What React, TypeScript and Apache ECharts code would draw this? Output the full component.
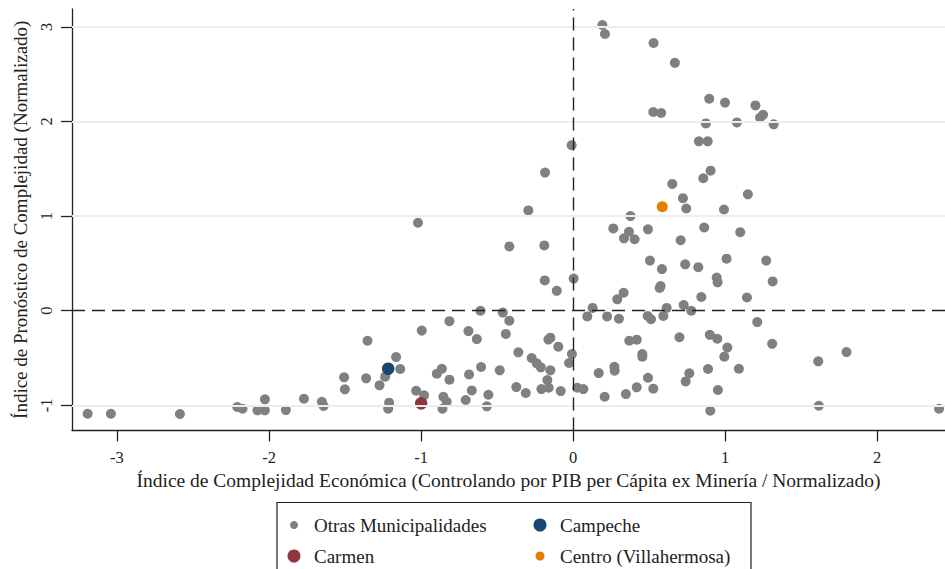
import React, { useEffect, useRef } from "react";
import * as echarts from "echarts";

const xTicks = [-3, -2, -1, 0, 1, 2];
const yTicks = [-1, 0, 1, 2, 3];
const gridLineValues = [-1, 1, 2, 3];

const otras: [number, number][] = [
  [0.193, 3.02], [0.21, 2.925], [0.53, 2.83], [0.67, 2.62], [0.896, 2.24], [1.0, 2.2], [1.2, 2.17],
  [0.528, 2.1], [0.58, 2.09], [1.25, 2.07], [1.23, 2.04], [0.874, 1.98], [1.078, 1.99], [1.32, 1.97],
  [0.828, 1.79], [0.886, 1.79], [-0.009, 1.75], [0.905, 1.48], [-0.184, 1.46], [0.857, 1.4],
  [0.653, 1.34], [1.15, 1.23], [0.723, 1.19], [0.745, 1.08], [0.993, 1.07], [-0.294, 1.06],
  [0.378, 1.0], [-1.02, 0.93], [0.265, 0.87], [0.493, 0.86], [0.863, 0.88], [0.368, 0.835],
  [1.1, 0.83], [0.335, 0.765], [0.405, 0.755], [0.708, 0.745], [-0.419, 0.68], [-0.189, 0.69],
  [0.506, 0.53], [1.01, 0.55], [1.271, 0.53], [0.738, 0.49], [0.824, 0.46], [0.585, 0.44],
  [0.945, 0.35], [0.951, 0.3], [1.313, 0.31], [0.004, 0.34], [-0.186, 0.32], [0.576, 0.26],
  [0.57, 0.24], [-0.107, 0.21], [0.333, 0.19], [0.844, 0.145], [1.144, 0.14], [0.291, 0.12],
  [0.728, 0.06], [0.129, 0.03], [0.616, 0.03], [0.778, 0.0], [-0.609, 0.0], [-0.462, -0.02],
  [0.094, -0.06], [0.224, -0.06], [0.302, -0.085], [0.491, -0.056], [0.513, -0.09], [0.594, -0.056],
  [-0.419, -0.105], [-0.813, -0.11], [1.212, -0.12], [-0.995, -0.21], [-0.688, -0.215],
  [-0.442, -0.245], [0.7, -0.28], [0.9, -0.255], [-0.162, -0.305], [-0.149, -0.285], [-0.633, -0.3],
  [-1.352, -0.317], [0.37, -0.317], [0.419, -0.306], [0.949, -0.296], [1.31, -0.35], [-0.097, -0.38],
  [1.015, -0.39], [-0.36, -0.44], [-0.007, -0.458], [0.456, -0.458], [0.456, -0.486], [1.799, -0.437],
  [-1.164, -0.49], [0.995, -0.486], [-0.272, -0.5], [1.613, -0.535], [-0.239, -0.556], [-0.026, -0.553],
  [-0.212, -0.598], [-0.605, -0.595], [0.272, -0.592], [-1.137, -0.616], [0.888, -0.616], [1.091, -0.613],
  [-0.863, -0.613], [-0.149, -0.63], [-0.482, -0.63], [0.274, -0.634], [0.169, -0.659], [-0.896, -0.666],
  [-0.684, -0.673], [0.765, -0.662], [-1.236, -0.697], [-1.506, -0.704], [0.493, -0.708], [-1.361, -0.715],
  [-0.813, -0.729], [-0.169, -0.733], [0.741, -0.747], [-1.273, -0.789], [-0.373, -0.807], [0.419, -0.81],
  [-0.16, -0.814], [0.028, -0.814], [0.528, -0.824], [0.068, -0.828], [-0.208, -0.828], [-1.501, -0.831],
  [0.953, -0.838], [-0.666, -0.842], [-1.032, -0.846], [-0.081, -0.849], [-0.311, -0.87], [0.348, -0.881],
  [-0.557, -0.888], [-0.98, -0.894], [-0.853, -0.909], [0.208, -0.909], [-1.77, -0.93], [-2.027, -0.937],
  [-0.706, -0.944], [-1.652, -0.962], [-0.831, -0.962], [-1.21, -0.972], [-1.641, -1.007], [-0.567, -1.011],
  [1.617, -1.004], [-2.209, -1.018], [-1.216, -1.036], [-0.859, -1.036], [-2.174, -1.036], [2.408, -1.036],
  [-1.889, -1.05], [-2.076, -1.053], [-2.027, -1.053], [0.903, -1.057], [-3.193, -1.089], [-3.04, -1.089],
  [-2.586, -1.092],
];
const campeche: [number, number][] = [[-1.216, -0.613]];
const carmen: [number, number][] = [[-0.999, -0.979]];
const centro: [number, number][] = [[0.587, 1.1]];

const seriesNames = ["Otras Municipalidades", "Campeche", "Carmen", "Centro (Villahermosa)"];
const seriesColors = ["#808080", "#1a476f", "#90353b", "#e37e00"];

const FONT = "'Liberation Serif', 'Times New Roman', serif";
const INK = "#222222";

export default function App() {
  const ref = useRef<HTMLDivElement>(null);
  useEffect(() => {
    if (!ref.current) return;
    const chart = echarts.init(ref.current, null, { renderer: "svg" });
    const legendItems = [
      { name: seriesNames[0], color: seriesColors[0], x: 294, y: 525, r: 4 },
      { name: seriesNames[1], color: seriesColors[1], x: 540, y: 525, r: 6.5 },
      { name: seriesNames[2], color: seriesColors[2], x: 294, y: 556, r: 6.5 },
      { name: seriesNames[3], color: seriesColors[3], x: 540, y: 556, r: 4.5 },
    ];
    const graphics: any[] = [
      {
        type: "rect",
        shape: { x: 277, y: 502.5, width: 474, height: 80 },
        style: { fill: "#fff", stroke: INK, lineWidth: 1.2 },
        silent: true,
      },
    ];
    legendItems.forEach((it) => {
      graphics.push({
        type: "circle",
        shape: { cx: it.x, cy: it.y, r: it.r },
        style: { fill: it.color },
        silent: true,
      });
      graphics.push({
        type: "text",
        x: it.x + 20,
        y: it.y,
        style: {
          text: it.name,
          fill: INK,
          font: `19px ${FONT}`,
          verticalAlign: "middle",
          align: "left",
        },
        silent: true,
      });
    });

    chart.setOption({
      animation: false,
      backgroundColor: "#ffffff",
      grid: { left: 72, top: 9, width: 873, height: 421.5, containLabel: false },
      xAxis: {
        type: "value",
        min: -3.296,
        max: 2.447,
        name: "Índice de Complejidad Económica (Controlando por PIB per Cápita ex Minería / Normalizado)",
        nameLocation: "middle",
        nameGap: 37,
        nameTextStyle: { fontFamily: FONT, fontSize: 19.5, color: INK },
        axisLine: { show: true, onZero: false, lineStyle: { color: INK, width: 1.3 } },
        axisTick: { show: true, length: 11, customValues: xTicks, lineStyle: { color: INK, width: 1.3 } },
        axisLabel: { customValues: xTicks, margin: 18, fontFamily: FONT, fontSize: 16.5, color: INK },
        splitLine: { show: false },
      },
      yAxis: {
        type: "value",
        min: -1.266,
        max: 3.189,
        name: "Índice de Pronóstico de Complejidad (Normalizado)",
        nameLocation: "middle",
        nameRotate: 90,
        nameGap: 42,
        nameTextStyle: { fontFamily: FONT, fontSize: 19, color: INK },
        axisLine: { show: true, onZero: false, lineStyle: { color: INK, width: 1.3 } },
        axisTick: { show: true, length: 11, customValues: yTicks, lineStyle: { color: INK, width: 1.3 } },
        axisLabel: { customValues: yTicks, rotate: 90, margin: 17, fontFamily: FONT, fontSize: 16.5, color: INK },
        splitLine: { show: false },
      },
      series: [
        {
          name: "refs",
          type: "scatter",
          data: [],
          z: 1,
          markLine: {
            silent: true,
            symbol: "none",
            label: { show: false },
            animation: false,
            data: [
              ...gridLineValues.map((v) => ({ yAxis: v, lineStyle: { color: "#e6f0f2", width: 2, type: "solid" } })),
              { yAxis: 0, lineStyle: { color: INK, width: 1.4, type: [13, 7] } },
              { xAxis: 0, lineStyle: { color: INK, width: 1.4, type: [13, 7] } },
            ],
          },
        },
        {
          name: seriesNames[0],
          type: "scatter",
          data: otras,
          symbolSize: 10,
          itemStyle: { color: seriesColors[0], opacity: 1 },
          z: 3,
        },
        {
          name: seriesNames[1],
          type: "scatter",
          data: campeche,
          symbolSize: 12.5,
          itemStyle: { color: seriesColors[1], opacity: 1 },
          z: 4,
        },
        {
          name: seriesNames[2],
          type: "scatter",
          data: carmen,
          symbolSize: 12.5,
          itemStyle: { color: seriesColors[2], opacity: 1 },
          z: 4,
        },
        {
          name: seriesNames[3],
          type: "scatter",
          data: centro,
          symbolSize: 11,
          itemStyle: { color: seriesColors[3], opacity: 1 },
          z: 4,
        },
      ],
      graphic: graphics,
    });
    return () => chart.dispose();
  }, []);
  return <div ref={ref} style={{ width: 945, height: 569, position: "absolute", left: 0, top: 0 }} />;
}
